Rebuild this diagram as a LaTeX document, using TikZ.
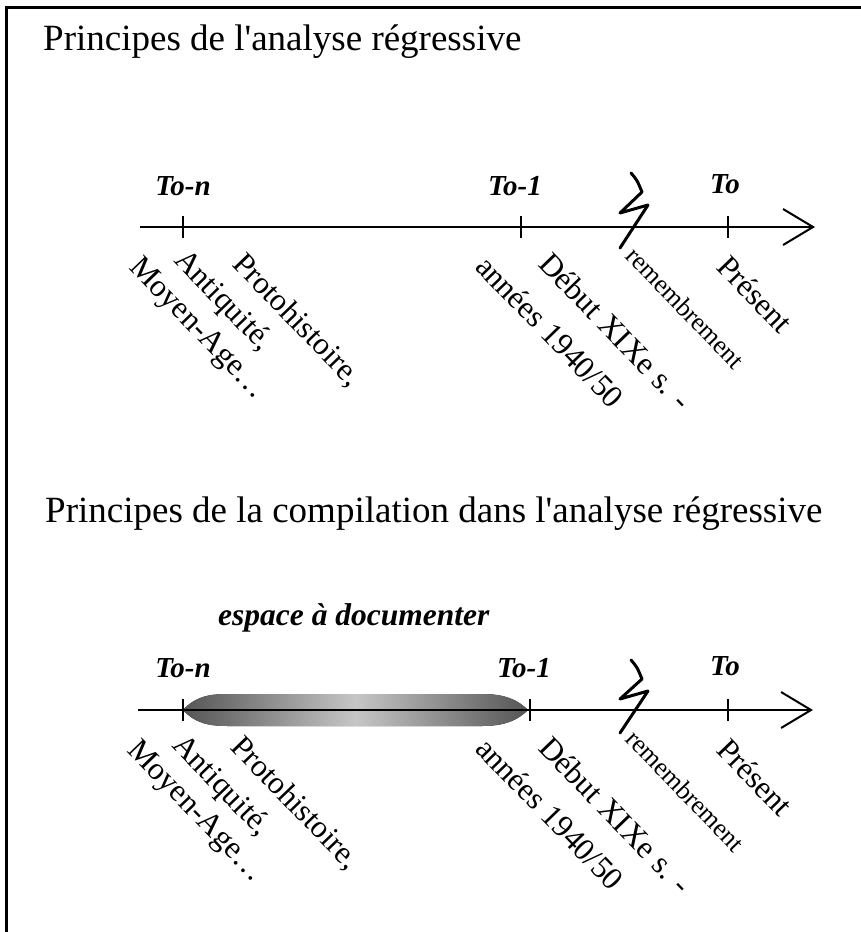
\documentclass[tikz,border=0pt]{standalone}
\usepackage{fontspec}
\setmainfont{Liberation Serif}
\usetikzlibrary{arrows.meta,positioning,calc}
\definecolor{bardark}{HTML}{555555}
\definecolor{barlight}{HTML}{C6C6C6}

\begin{document}
\begin{tikzpicture}[
    x=1pt, y=-1pt,
    title/.style={anchor=base west, inner sep=0pt, font=\fontsize{37}{42}\selectfont},
    axis/.style={-{Straight Barb[length=30pt, width=36pt, line width=2pt]}, line width=1.8pt},
    tick/.style={line width=1.3pt},
    tlbl/.style={anchor=base, inner sep=0pt, font=\fontsize{29}{33}\selectfont\bfseries\itshape},
    lbl/.style={anchor=base west, rotate=-46, inner sep=0pt, font=\fontsize{31.5}{37}\selectfont},
    slbl/.style={lbl, font=\fontsize{26}{30}\selectfont},
    bolt/.style={line width=3pt, line join=round, line cap=round}
  ]

  % ---- Frame ----
  \useasboundingbox (0,0) rectangle (861,932);
  \draw[line width=3pt] (6,932) -- (6,7) -- (861,7);

  % ============ UPPER TIMELINE ============
  \node[title] (TI1) at (43,50) {Principes de l\textquotesingle analyse régressive};

  \coordinate (Sa) at (140,227);
  \coordinate (Ea) at (815,227);
  \coordinate (Na) at (183,227);
  \coordinate (Ma) at (521,227);
  \coordinate (Pa) at (728,227);

  \draw[axis] (Sa) -- (Ea);
  \draw[tick] ([yshift=11pt]Na) -- ([yshift=-11pt]Na);
  \draw[tick] ([yshift=11pt]Ma) -- ([yshift=-11pt]Ma);
  \draw[tick] ([yshift=11pt]Pa) -- ([yshift=-11pt]Pa);

  \node[tlbl] (TNa) at ([yshift=32pt]Na) {To-n};
  \node[tlbl] (TMa) at ([shift={(-6pt,32pt)}]Ma) {To-1};
  \node[tlbl] (TPa) at ([shift={(-3pt,34pt)}]Pa) {To};

  % break mark
  \draw[bolt] (631,173) .. controls (637,180) .. (642,192) -- (620,213) -- (648,205) -- (620,248);

  % labels under the axis
  \node[lbl] (MAa) at (128,268) {Moyen-Age\ldots};
  \node[lbl] (ANa) at (173,261) {Antiquité,};
  \node[lbl] (PRa) at (231,265) {Protohistoire,};
  \node[lbl] (ANNa) at (474,268) {années 1940/50};
  \node[lbl] (DEa) at (537,265) {Début XIXe s. -};
  \node[slbl] (REa) at (624,257) {remembrement};
  \node[lbl] (PSa) at (715,268) {Présent};

  % ============ LOWER TIMELINE ============
  \node[title] (TI2) at (45,522)
    {Principes de la compilation dans l\textquotesingle analyse régressive};

  \node[anchor=base west, inner sep=0pt, font=\fontsize{31.5}{36}\selectfont\bfseries\itshape]
    (ESP) at (218,625) {espace à documenter};

  \coordinate (Sb) at (138,710);
  \coordinate (Eb) at (813,710);
  \coordinate (Nb) at (183,710);
  \coordinate (Mb) at (530,710);
  \coordinate (Pb) at (728,710);

  % shaded span To-n .. To-1
  \fill[left color=bardark, right color=bardark, middle color=barlight]
    (Nb) .. controls (195,697) and (208,694) .. (228,694) -- (482,694)
    .. controls (505,694) and (518,700) .. (528,710)
    .. controls (518,720) and (505,726) .. (482,726) -- (228,726)
    .. controls (208,726) and (195,723) .. (Nb) -- cycle;

  \draw[axis] (Sb) -- (Eb);
  \draw[tick] ([yshift=11pt]Nb) -- ([yshift=-11pt]Nb);
  \draw[tick] ([yshift=11pt]Mb) -- ([yshift=-11pt]Mb);
  \draw[tick] ([yshift=11pt]Pb) -- ([yshift=-11pt]Pb);

  \node[tlbl] (TNb) at ([yshift=33pt]Nb) {To-n};
  \node[tlbl] (TMb) at ([shift={(-6pt,33pt)}]Mb) {To-1};
  \node[tlbl] (TPb) at ([shift={(-3pt,35pt)}]Pb) {To};

  % break mark
  \draw[bolt] (631,660) .. controls (637,667) .. (642,679) -- (620,699) -- (648,691) -- (620,733);

  % labels under the axis
  \node[lbl] (MAb) at (126,751) {Moyen-Age\ldots};
  \node[lbl] (ANb) at (171,746) {Antiquité,};
  \node[lbl] (PRb) at (229,748) {Protohistoire,};
  \node[lbl] (ANNb) at (474,750) {années 1940/50};
  \node[lbl] (DEb) at (537,749) {Début XIXe s. -};
  \node[slbl] (REb) at (624,740) {remembrement};
  \node[lbl] (PSb) at (715,751) {Présent};

\end{tikzpicture}
\end{document}
